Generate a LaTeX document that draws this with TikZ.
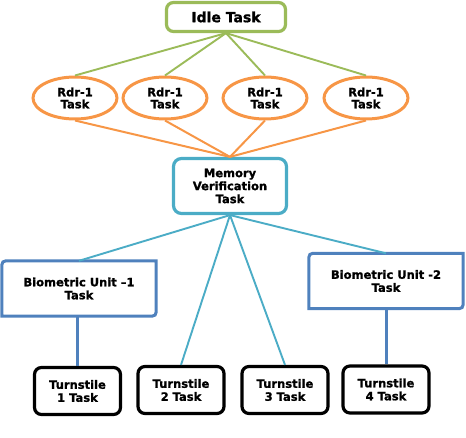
\documentclass[tikz,border=0pt]{standalone}
\usepackage{fontspec}
\setmainfont[BoldFeatures={FakeBold=1.2}]{DejaVu Sans}
\usepackage{tikz}
\usetikzlibrary{shapes.geometric}

\definecolor{idlegreen}{HTML}{9BBB59}
\definecolor{rdrorange}{HTML}{F79646}
\definecolor{memteal}{HTML}{4BACC6}
\definecolor{biosteel}{HTML}{4F81BD}

\begin{document}
\begin{tikzpicture}[x=1pt, y=-1pt,
    every node/.style={font=\bfseries\fontsize{11.5}{13}\selectfont, align=center, inner sep=0pt},
    idlebox/.style={draw=idlegreen, line width=3.2pt, rounded corners=7pt, minimum width=119pt, minimum height=29pt, font=\bfseries\fontsize{14}{15}\selectfont},
    rdr/.style={ellipse, draw=rdrorange, line width=3pt, minimum width=84pt, minimum height=42pt, font=\bfseries\fontsize{11.5}{12}\selectfont},
    membox/.style={draw=memteal, line width=3.2pt, rounded corners=8pt, minimum width=113pt, minimum height=55pt},
    bio/.style={minimum width=154pt, minimum height=55pt},
    biobox/.style={draw=biosteel, line width=3pt},
    turn/.style={draw=black, line width=3.2pt, rounded corners=7pt, minimum width=86pt, minimum height=47pt},
    gline/.style={draw=idlegreen, line width=1.9pt},
    oline/.style={draw=rdrorange, line width=2pt},
    tline/.style={draw=memteal, line width=1.9pt},
    sline/.style={draw=biosteel, line width=3pt}]
    \useasboundingbox (0, 0) rectangle (466, 438);

    % Idle task
    \node[idlebox] (idle) at (226, 17) {Idle Task};

    % Reader tasks
    \node[rdr] (rdr1) at (75, 98) {Rdr-1\\Task};
    \node[rdr] (rdr2) at (165, 98) {Rdr-1\\Task};
    \node[rdr] (rdr3) at (265, 98) {Rdr-1\\Task};
    \node[rdr] (rdr4) at (366, 98) {Rdr-1\\Task};

    % Memory verification
    \node[membox] (mem) at (230, 186) {Memory\\Verification\\Task};

    % Biometric units
    \node[bio] (bio1) at (79, 288.5) {Biometric Unit --1\\Task};
    \node[bio] (bio2) at (386, 281) {Biometric Unit -2\\Task};
    \draw[biobox] (bio1.south west) -- ([yshift=-9pt]bio1.north west) .. controls (bio1.north west) .. ([xshift=9pt]bio1.north west)
        -- (bio1.north east) -- ([yshift=9pt]bio1.south east) .. controls (bio1.south east) .. ([xshift=-9pt]bio1.south east) -- cycle;
    \draw[biobox] (bio2.south west) -- ([yshift=-9pt]bio2.north west) .. controls (bio2.north west) .. ([xshift=9pt]bio2.north west)
        -- (bio2.north east) -- ([yshift=9pt]bio2.south east) .. controls (bio2.south east) .. ([xshift=-9pt]bio2.south east) -- cycle;

    % Turnstiles
    \node[turn] (ts1) at (77.5, 391) {Turnstile\\1 Task};
    \node[turn] (ts2) at (181, 390) {Turnstile\\2 Task};
    \node[turn] (ts3) at (285, 390) {Turnstile\\3 Task};
    \node[turn] (ts4) at (386, 389.5) {Turnstile\\4 Task};

    % Idle to readers
    \foreach \r in {rdr1, rdr2, rdr3, rdr4}
        \draw[gline] (idle.south) -- (\r.north);

    % Readers to memory
    \foreach \r in {rdr1, rdr2, rdr3, rdr4}
        \draw[oline] (\r.south) -- (mem.north);

    % Memory to units and turnstiles
    \draw[tline] (mem.south) -- (bio1.north);
    \draw[tline] (mem.south) -- (ts2.north);
    \draw[tline] (mem.south) -- (ts3.north);
    \draw[tline] (mem.south) -- (bio2.north);

    % Units to turnstiles
    \draw[sline] (ts1.north |- bio1.south) -- (ts1.north);
    \draw[sline] (bio2.south) -- (ts4.north);
\end{tikzpicture}
\end{document}
